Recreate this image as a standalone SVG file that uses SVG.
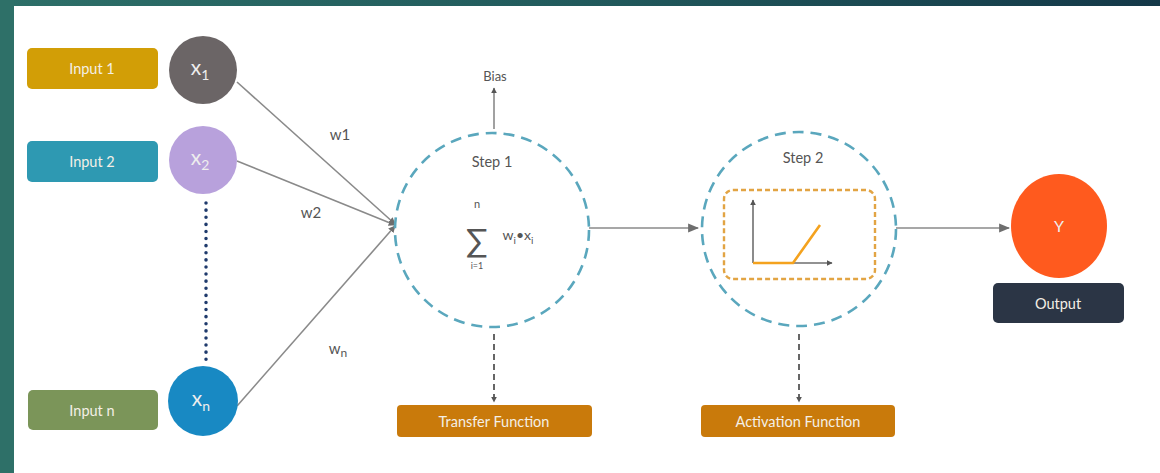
<svg xmlns="http://www.w3.org/2000/svg" width="1160" height="473" viewBox="0 0 1160 473">
  <defs>
    <linearGradient id="bg" x1="0" y1="0" x2="1" y2="0">
      <stop offset="0" stop-color="#2d6f68"/>
      <stop offset="0.5" stop-color="#215a5c"/>
      <stop offset="1" stop-color="#143848"/>
    </linearGradient>
    <marker id="arr" viewBox="0 0 10 10" refX="9" refY="5" markerWidth="7" markerHeight="7" orient="auto" markerUnits="userSpaceOnUse">
      <path d="M0,0 L10,5 L0,10 z" fill="#6e6e6e"/>
    </marker>
    <marker id="arrBig" viewBox="0 0 10 10" refX="9" refY="5" markerWidth="11" markerHeight="11" orient="auto" markerUnits="userSpaceOnUse">
      <path d="M0,1 L10,5 L0,9 z" fill="#6e6e6e"/>
    </marker>
    <marker id="arrSm" viewBox="0 0 10 10" refX="9" refY="5" markerWidth="6" markerHeight="6" orient="auto" markerUnits="userSpaceOnUse">
      <path d="M0,0 L10,5 L0,10 z" fill="#555"/>
    </marker>
  </defs>
  <style>
    .box-text { font-family: Lato, "Liberation Sans", sans-serif; font-size: 14.5px; fill: #f4efe6; text-anchor: middle; dominant-baseline: central; }
    .node-text { font-family: Lato, "Liberation Sans", sans-serif; fill: #eeeeee; text-anchor: middle; }
    .dark { font-family: Lato, "Liberation Sans", sans-serif; fill: #555555; text-anchor: middle; }
    .edge { stroke: #8a8a8a; stroke-width: 1.6; fill: none; }
    .step { fill: none; stroke: #5aa7bd; stroke-width: 2.6; stroke-dasharray: 11 7; }
    .vdash { stroke: #666; stroke-width: 2; stroke-dasharray: 6 4; fill: none; }
  </style>

  <!-- background -->
  <rect x="0" y="0" width="1160" height="473" fill="url(#bg)"/>
  <rect x="0" y="0" width="14" height="473" fill="#2e7068"/>
  <rect x="14" y="6" width="1146" height="467" fill="#ffffff"/>

  <!-- connectors -->
  <g id="connectors">
    <line class="edge" x1="237" y1="82" x2="395" y2="224" marker-end="url(#arr)"/>
    <line class="edge" x1="237" y1="161" x2="395" y2="225" marker-end="url(#arr)"/>
    <line class="edge" x1="237" y1="406" x2="395" y2="226" marker-end="url(#arr)"/>
    <line x1="206" y1="203" x2="206" y2="362" stroke="#1f3a6c" stroke-width="3.5" stroke-dasharray="0.1 7" stroke-linecap="round"/>
    <line class="edge" x1="494" y1="129" x2="494" y2="88" marker-end="url(#arrSm)"/>
    <line class="edge" x1="589" y1="228" x2="698" y2="228" marker-end="url(#arrBig)"/>
    <line class="edge" x1="896" y1="228" x2="1009" y2="228" marker-end="url(#arrBig)"/>
    <line class="vdash" x1="494" y1="334" x2="494" y2="402" marker-end="url(#arrSm)"/>
    <line class="vdash" x1="799" y1="334" x2="799" y2="402" marker-end="url(#arrSm)"/>
    <text class="dark" x="340" y="140" font-size="15">w1</text>
    <text class="dark" x="311" y="218" font-size="15">w2</text>
    <text class="dark" x="338" y="354" font-size="15">w<tspan font-size="12" dy="3">n</tspan></text>
  </g>

  <!-- inputs -->
  <g id="input1">
    <rect x="27" y="48" width="131" height="41" rx="5" fill="#d29e06"/>
    <text class="box-text" x="92" y="68">Input 1</text>
  </g>
  <g id="input2">
    <rect x="27" y="141" width="131" height="41" rx="5" fill="#2e99b2"/>
    <text class="box-text" x="92" y="161">Input 2</text>
  </g>
  <g id="inputn">
    <rect x="28" y="390" width="130" height="40" rx="5" fill="#7b9559"/>
    <text class="box-text" x="92" y="410">Input n</text>
  </g>

  <g id="x1">
    <circle cx="203" cy="70" r="34" fill="#6b6566"/>
    <text class="node-text" x="200" y="75" font-size="21">x<tspan font-size="14" dy="5">1</tspan></text>
  </g>
  <g id="x2">
    <circle cx="203" cy="160" r="34" fill="#b8a1dc"/>
    <text class="node-text" x="200" y="165" font-size="21">x<tspan font-size="14" dy="5">2</tspan></text>
  </g>
  <g id="xn">
    <circle cx="203" cy="401" r="35" fill="#1889c3"/>
    <text class="node-text" x="201" y="406" font-size="21">x<tspan font-size="14" dy="5">n</tspan></text>
  </g>

  <!-- step 1 -->
  <g id="step1">
    <circle class="step" cx="492" cy="230" r="97"/>
    <text class="dark" x="492" y="167" font-size="14.5">Step 1</text>
    <text class="dark" x="477" y="208" font-size="11">n</text>
    <text class="dark" x="477" y="252" font-size="32">∑</text>
    <text class="dark" x="477" y="269" font-size="9">i=1</text>
    <text class="dark" x="518" y="240" font-size="14">w<tspan font-size="10" dy="4">i</tspan><tspan dy="-4">•x</tspan><tspan font-size="10" dy="4">i</tspan></text>
  </g>
  <g id="bias">
    <text class="dark" x="495" y="81" font-size="13">Bias</text>
  </g>

  <!-- step 2 -->
  <g id="step2">
    <circle class="step" cx="799" cy="229" r="97"/>
    <text class="dark" x="803" y="163" font-size="14.5">Step 2</text>
    <rect x="724" y="190" width="151" height="89" rx="9" fill="none" stroke="#e2a443" stroke-width="2.4" stroke-dasharray="5 3"/>
    <line x1="753" y1="263" x2="753" y2="200" stroke="#6e6e6e" stroke-width="1.6" marker-end="url(#arrSm)"/>
    <line x1="753" y1="263" x2="832" y2="263" stroke="#6e6e6e" stroke-width="1.6" marker-end="url(#arrSm)"/>
    <polyline points="753,263 793,263 820,225" fill="none" stroke="#f4a21e" stroke-width="2.6"/>
  </g>

  <!-- output -->
  <g id="y">
    <ellipse cx="1059" cy="226" rx="48" ry="52" fill="#ff5a1e"/>
    <text class="node-text" x="1059" y="232" font-size="16">Y</text>
  </g>
  <g id="output">
    <rect x="993" y="283" width="131" height="40" rx="5" fill="#2b3545"/>
    <text class="box-text" x="1058" y="303" fill="#dddddd">Output</text>
  </g>

  <g id="transfer">
    <rect x="397" y="405" width="195" height="32" rx="4" fill="#c97a0b"/>
    <text class="box-text" x="494" y="421" font-size="15">Transfer Function</text>
  </g>
  <g id="activation">
    <rect x="701" y="405" width="194" height="32" rx="4" fill="#c97a0b"/>
    <text class="box-text" x="798" y="421" font-size="15">Activation Function</text>
  </g>
</svg>
